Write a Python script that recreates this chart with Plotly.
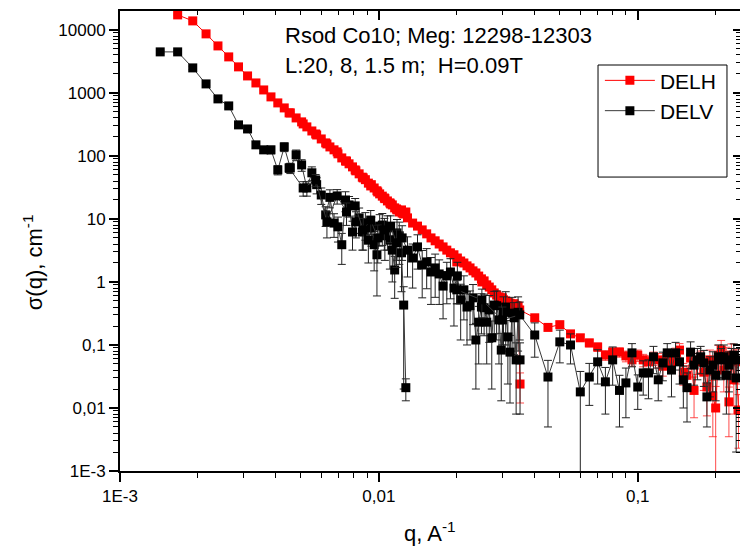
import plotly.graph_objects as go

# q grids of the three detector distances, A^-1
q_20m = [0.00143, 0.00167, 0.00191, 0.00215, 0.00239, 0.00263, 0.00287, 0.00311, 0.00335, 0.00359,
         0.00383, 0.00407, 0.00431, 0.00455, 0.00479, 0.00503, 0.00527, 0.00551, 0.00575, 0.00599,
         0.00623, 0.00647, 0.00671, 0.00695, 0.00719, 0.00743, 0.00767, 0.00791, 0.00815, 0.00839,
         0.00863, 0.00887, 0.00911, 0.00935, 0.00959, 0.00983, 0.01007, 0.01031, 0.01055, 0.01079,
         0.01103, 0.01127, 0.01151, 0.01175, 0.01199, 0.01223, 0.01247, 0.01271]
q_8m = [0.0045, 0.0051, 0.0057, 0.0063, 0.0069, 0.0075, 0.0081, 0.0087, 0.0093, 0.0099,
        0.0105, 0.0111, 0.0117, 0.0123, 0.0129, 0.0135, 0.0141, 0.0147, 0.0153, 0.0159,
        0.0165, 0.0171, 0.0177, 0.0183, 0.0189, 0.0195, 0.0201, 0.0207, 0.0213, 0.0219,
        0.0225, 0.0231, 0.0237, 0.0243, 0.0249, 0.0255, 0.0261, 0.0267, 0.0273, 0.0279,
        0.0285, 0.0291, 0.0297, 0.0303, 0.0309, 0.0315, 0.0321, 0.0327, 0.0333, 0.0339,
        0.0345, 0.0351]
q_1p5m = [0.020, 0.025, 0.030, 0.035, 0.040, 0.045, 0.050, 0.055, 0.060, 0.065,
          0.070, 0.075, 0.080, 0.085, 0.090, 0.095, 0.100, 0.105, 0.110, 0.115,
          0.120, 0.125, 0.130, 0.135, 0.140, 0.145, 0.150, 0.155, 0.160, 0.165,
          0.170, 0.175, 0.180, 0.185, 0.190, 0.195, 0.200, 0.205, 0.210, 0.215,
          0.220, 0.225, 0.230, 0.235, 0.240, 0.245]

# DELH, cm^-1
delh_20m = [None, 17300, 13900, 8650, 5570, 3730, 2590, 1860, 1440, 1115,
            865, 694, 578, 482, 401, 347, 289, 249, 215, 186,
            161, 139, 125, 108, 93, 83, 75, 67, 58, 52,
            46, 42, 37, 35, 31, 28, 25, 23, 21, 19.3,
            18.0, 16.7, 15.0, 13.9, 12.9, 13.9, 12.0, 12.9]
delh_20m_err = [None, 500, 400, 250, 160, 110, 75, 55, 45, 35,
                28, 22, 19, 16, 14, 12, 10, 9, 8, 7,
                6.5, 6, 5.5, 5, 4.5, 4, 3.8, 3.5, 3.2, 3,
                2.8, 2.6, 2.4, 2.3, 2.2, 2.1, 2.0, 1.9, 1.8, 1.8,
                1.7, 1.7, 1.6, 1.6, 1.5, 1.6, 1.5, 1.6]
delh_8m = [482, 322, 223, 155, 116, 83, 60, 44.8, 33.4, 26.8,
           21.5, 17.3, 14.4, 12.4, 10.4, 8.6, 7.7, 6.7, 5.8, 5.0,
           4.5, 4.0, 3.6, 3.2, 2.9, 2.7, 2.4, 2.15, 2.0, 1.8,
           1.67, 1.50, 1.39, 1.24, 1.12, 1.04, 0.90, 0.83, 0.75, 0.67,
           0.62, 0.58, 0.56, 0.52, 0.50, 0.48, 0.46, 0.43, 0.45, 0.42,
           0.41, 0.024]
delh_8m_err = [15, 10, 7, 5, 3.8, 2.8, 2.1, 1.6, 1.2, 1.0,
               0.8, 0.7, 0.6, 0.5, 0.45, 0.4, 0.36, 0.32, 0.29, 0.26,
               0.24, 0.22, 0.2, 0.19, 0.18, 0.17, 0.16, 0.15, 0.14, 0.13,
               0.12, 0.12, 0.11, 0.1, 0.1, 0.09, 0.09, 0.08, 0.08, 0.08,
               0.07, 0.07, 0.07, 0.07, 0.07, 0.07, 0.07, 0.07, 0.07, 0.07,
               0.07, 0.012]
delh_1p5m = [2.08, 1.0, 0.56, 0.36, 0.27, 0.19, 0.21, 0.15, 0.13, 0.108,
             0.093, 0.069, 0.077, 0.077, 0.067, 0.058, 0.069, 0.058, 0.054, 0.062,
             0.058, 0.046, 0.060, 0.054, 0.069, 0.083, 0.037, 0.033, 0.062, 0.019,
             0.054, 0.058, 0.037, 0.0215, 0.058, 0.0155, 0.010, 0.069, 0.083, 0.040,
             0.062, 0.0125, 0.069, 0.028, 0.054, 0.0093]
delh_1p5m_err = [0.1, 0.06, 0.04, 0.03, 0.025, 0.02, 0.02, 0.018, 0.016, 0.015,
                 0.014, 0.012, 0.013, 0.013, 0.013, 0.012, 0.014, 0.013, 0.013, 0.015,
                 0.015, 0.014, 0.016, 0.016, 0.02, 0.022, 0.014, 0.014, 0.02, 0.012,
                 0.02, 0.022, 0.018, 0.014, 0.025, 0.012, 0.012, 0.03, 0.035, 0.022,
                 0.03, 0.009, 0.035, 0.02, 0.03, 0.007]

# DELV, cm^-1
delv_20m = [4480, 4480, 2495, 1390, 804, 622, 311, 268, 150, 125,
            125, 60, 139, 64.5, 104, 72, 31, 54, 35, 24,
            11.6, 22, 8.6, 7.5, 3.9, 20, 16.7, 6.2, 9.0, 10.4,
            6.2, 8.6, 4.6, 7.2, 3.9, 2.7, 7.7, 8.0, 5.4, 7.2,
            4.6, 3.2, 1.55, 6.0, 5.4, 2.9, 0.43, 0.021]
delv_20m_err = [250, 240, 150, 90, 60, 50, 30, 28, 18, 16,
                17, 10, 22, 12, 20, 15, 8, 13, 10, 7,
                4, 7, 3.5, 3.2, 2.0, 7, 6, 3.0, 4.0, 4.5,
                3.0, 4.0, 2.6, 3.5, 2.4, 2.1, 4.0, 4.2, 3.2, 4.0,
                3.0, 2.2, 1.0, 3.8, 3.5, 2.2, 0.41, 0.008]
delv_8m = [64.5, 31, 41.6, 9.0, 23.2, 12.9, 16.1, 6.7, 9.6, 5.0,
           6.7, 7.7, 4.2, 5.0, 3.2, 2.4, 3.6, 1.86, 2.08, 1.44,
           1.67, 1.34, 0.86, 1.25, 1.44, 0.80, 1.25, 0.52, 0.75, 0.40,
           0.42, 0.56, 0.12, 0.23, 0.40, 0.39, 0.23, 0.36, 0.13, 0.43,
           0.42, 0.25, 0.083, 0.33, 0.40, 0.134, 0.077, 0.32, 0.27, 0.058,
           0.33, 0.058]
delv_8m_err = [10, 8, 9, 4, 6, 5, 5, 3.5, 4, 3,
               3.5, 3.5, 2.5, 2.8, 2.0, 1.6, 2.0, 1.3, 1.3, 1.0,
               1.1, 0.9, 0.6, 0.8, 0.9, 0.6, 0.8, 0.4, 0.5, 0.3,
               0.3, 0.35, 0.1, 0.18, 0.25, 0.25, 0.18, 0.25, 0.11, 0.28,
               0.3, 0.2, 0.07, 0.25, 0.3, 0.11, 0.065, 0.25, 0.2, 0.05,
               0.25, 0.05]
delv_1p5m = [0.75, 0.52, 0.25, 0.30, 0.144, 0.031, 0.112, 0.10, 0.018, 0.031,
             0.054, 0.026, 0.058, 0.019, 0.025, 0.075, 0.0215, 0.036, 0.036, 0.065,
             0.028, 0.052, 0.075, 0.040, 0.075, 0.054, 0.028, 0.021, 0.077, 0.048,
             0.058, 0.065, 0.052, 0.015, 0.040, 0.048, 0.033, 0.065, 0.058, 0.065,
             0.033, 0.048, 0.058, 0.069, 0.030, 0.058]
delv_1p5m_err = [0.3, 0.25, 0.15, 0.18, 0.08, 0.026, 0.06, 0.05, 0.02, 0.02,
                 0.03, 0.018, 0.035, 0.014, 0.018, 0.03, 0.012, 0.02, 0.022, 0.03,
                 0.015, 0.025, 0.03, 0.025, 0.035, 0.03, 0.018, 0.015, 0.035, 0.025,
                 0.03, 0.03, 0.03, 0.01, 0.025, 0.03, 0.02, 0.035, 0.03, 0.035,
                 0.025, 0.03, 0.03, 0.035, 0.028, 0.03]

x_ticks = [0.001, 0.01, 0.1]
x_ticktext = ["1E-3", "0,01", "0,1"]
y_ticks = [0.001, 0.01, 0.1, 1, 10, 100, 1000, 10000]
y_ticktext = ["1E-3", "0,01", "0,1", "1", "10", "100", "1000", "10000"]

FONT = "Liberation Sans, Arial, sans-serif"
x_minor = [m * 10.0 ** e for e in range(-3, 0) for m in range(2, 10)]
y_minor = [m * 10.0 ** e for e in range(-3, 5) for m in range(2, 10)]
x_range = [-3, -0.605]
y_range = [-3, 4.30]

fig = go.Figure()

series = [
    ("DELH", "#ff0000", "#ff0000", "rgba(255,30,30,0.8)",
     [(q_20m, delh_20m, delh_20m_err), (q_8m, delh_8m, delh_8m_err), (q_1p5m, delh_1p5m, delh_1p5m_err)]),
    ("DELV", "#000000", "#3a3a3a", "#222222",
     [(q_20m, delv_20m, delv_20m_err), (q_8m, delv_8m, delv_8m_err), (q_1p5m, delv_1p5m, delv_1p5m_err)]),
]
for name, mcol, lcol, ecol, parts in series:
    for i, (q, s, e) in enumerate(parts):
        fig.add_trace(go.Scatter(
            x=q, y=s, mode="lines+markers", name=name, legendgroup=name, showlegend=(i == 0),
            line=dict(color=lcol, width=1),
            marker=dict(symbol="square", size=9, color=mcol),
            error_y=dict(type="data", array=e, color=ecol, thickness=1, width=4),
        ))

# empty trace so the top / right tick axes get drawn
fig.add_trace(go.Scatter(x=[None], y=[None], xaxis="x2", yaxis="y2", showlegend=False, hoverinfo="skip"))

axis_common = dict(type="log", showgrid=False, zeroline=False, tickcolor="black")

fig.update_layout(
    width=740, height=549,
    margin=dict(l=120, r=0, t=11, b=78),
    paper_bgcolor="white", plot_bgcolor="white",
    font=dict(family=FONT, color="black"),
    showlegend=True,
    xaxis=dict(**axis_common, range=x_range, tickvals=x_ticks, ticktext=x_ticktext,
               ticks="outside", ticklen=9, tickwidth=1.5,
               showline=True, linecolor="black", linewidth=2,
               tickfont=dict(size=17, family=FONT),
               minor=dict(tickvals=x_minor, ticks="outside", ticklen=5, tickwidth=1, tickcolor="black", showgrid=False)),
    yaxis=dict(**axis_common, range=y_range, tickvals=y_ticks, ticktext=y_ticktext,
               ticks="outside", ticklen=9, tickwidth=1.5,
               showline=True, linecolor="black", linewidth=2,
               tickfont=dict(size=17, family=FONT),
               minor=dict(tickvals=y_minor, ticks="outside", ticklen=5, tickwidth=1, tickcolor="black", showgrid=False)),
    xaxis2=dict(**axis_common, range=x_range, overlaying="x", side="top", anchor="y2",
                tickvals=x_ticks, showticklabels=False, ticks="inside", ticklen=9, tickwidth=1.5,
                showline=True, linecolor="black", linewidth=1.5,
                minor=dict(tickvals=x_minor, ticks="inside", ticklen=4, tickwidth=1, tickcolor="black", showgrid=False)),
    yaxis2=dict(**axis_common, range=y_range, overlaying="y", side="right", anchor="x2",
                tickvals=y_ticks, showticklabels=False, ticks="inside", ticklen=7, tickwidth=1.5,
                showline=False,
                minor=dict(tickvals=y_minor, ticks="inside", ticklen=4, tickwidth=1, tickcolor="black", showgrid=False)),
    legend=dict(x=0.774, y=0.893, xanchor="left", yanchor="top", bgcolor="rgba(0,0,0,0)",
                borderwidth=0, font=dict(size=21, family=FONT), itemwidth=50, tracegroupgap=0),
    shapes=[dict(type="rect", xref="paper", yref="paper", x0=0.771, x1=0.979, y0=0.639, y1=0.8826,
                 line=dict(color="black", width=1), fillcolor="rgba(0,0,0,0)")],
    annotations=[
        dict(text="Rsod Co10; Meg: 12298-12303", xref="paper", yref="paper", x=0.263, y=0.9457,
             xanchor="left", yanchor="middle", showarrow=False, font=dict(size=22, family=FONT)),
        dict(text="L:20, 8, 1.5 m;\u00a0 H=0.09T", xref="paper", yref="paper", x=0.263, y=0.8826,
             xanchor="left", yanchor="middle", showarrow=False, font=dict(size=22, family=FONT)),
        dict(text="\u03c3(q), cm<sup>-1</sup>", xref="paper", yref="paper", x=-0.140, y=0.4543,
             xanchor="center", yanchor="middle", textangle=-90, showarrow=False, font=dict(size=22, family=FONT)),
        dict(text="q, A<sup>-1</sup>", xref="paper", yref="paper", x=0.5, y=-0.1326,
             xanchor="center", yanchor="middle", showarrow=False, font=dict(size=22, family=FONT)),
    ],
)

fig.write_html("out.html", config={"displayModeBar": False},
               post_script="document.body.style.margin='0';")
